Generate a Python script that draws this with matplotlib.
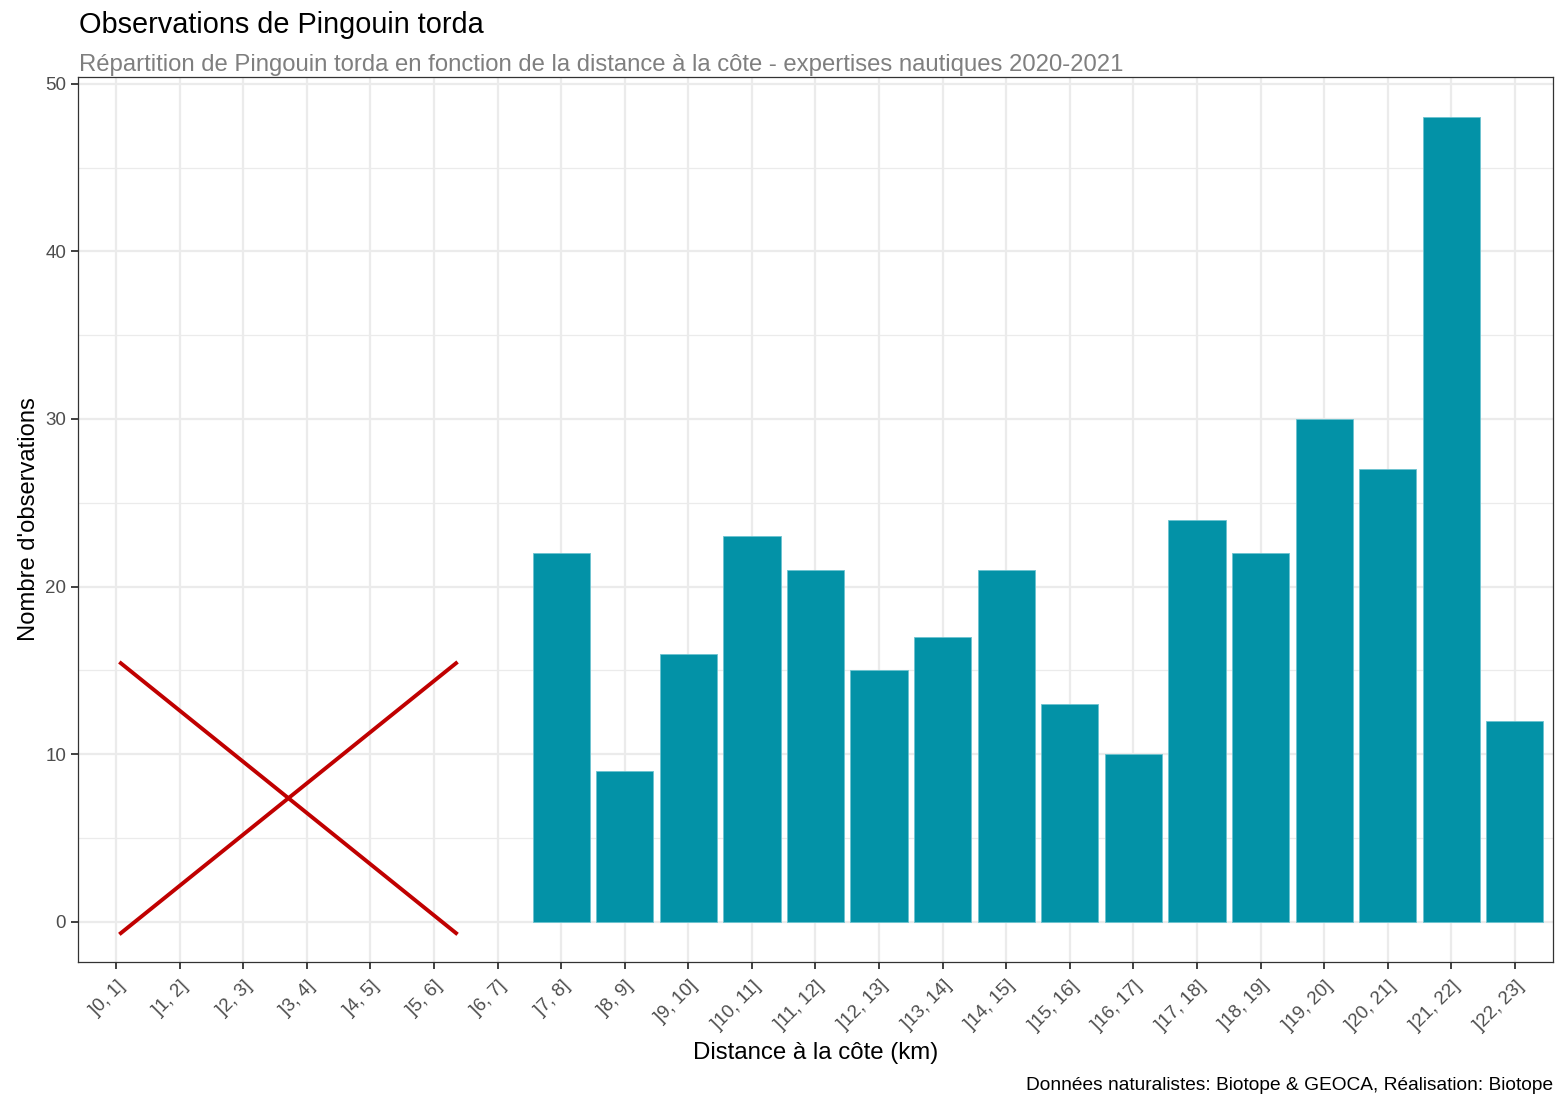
import numpy as np
import matplotlib
matplotlib.use('Agg')
import matplotlib.pyplot as plt
import matplotlib.transforms as mtransforms
from matplotlib.ticker import MultipleLocator

plt.rcParams['font.family'] = ['Liberation Sans', 'DejaVu Sans']

# distance classes (km) and number of observations per class
classes = [']%d, %d]' % (i, i + 1) for i in range(23)]
counts = [0, 0, 0, 0, 0, 0, 0, 22, 9, 16, 23, 21, 15, 17, 21, 13, 10, 24, 22, 30, 27, 48, 12]

# cross drawn over the near-shore classes (x in class index, y in counts)
cross_x = [0.05, 5.37]
cross_y1 = [15.5, -0.75]
cross_y2 = [-0.75, 15.5]

bar_col = '#0392a7'
grid_col = '#ebebeb'

fig = plt.figure(figsize=(15.57, 10.96), dpi=100)
ax = fig.add_axes([78/1557, 1 - 962/1096, (1553-78)/1557, (962-77)/1096])

x = np.arange(len(classes))
shown = [c > 0 for c in counts]
ax.bar(x[shown], np.array(counts)[shown], width=0.9, color=bar_col,
       edgecolor='#6cc3d0', linewidth=0.6, zorder=3)

ax.plot(cross_x, cross_y1, color='#c00000', lw=2.8, zorder=4, solid_capstyle='butt')
ax.plot(cross_x, cross_y2, color='#c00000', lw=2.8, zorder=4, solid_capstyle='butt')

ax.set_xlim(-0.6, 22.6)
ax.set_ylim(-2.4, 50.4)
ax.set_xticks(x)
ax.set_xticklabels(classes, rotation=45, ha='right', va='top',
                   rotation_mode='anchor', fontsize=13.5, color='#4d4d4d')
shift = mtransforms.ScaledTranslation(8/100, -2/100, fig.dpi_scale_trans)
for lab in ax.get_xticklabels():
    lab.set_transform(lab.get_transform() + shift)
ax.yaxis.set_major_locator(MultipleLocator(10))
ax.yaxis.set_minor_locator(MultipleLocator(5))
ax.tick_params(axis='y', labelsize=13.5, labelcolor='#4d4d4d', length=5, width=1.3, color='#333333')
ax.tick_params(axis='x', length=5, width=1.3, color='#333333', pad=6)
ax.tick_params(axis='y', which='minor', length=0)

ax.grid(True, which='major', color=grid_col, lw=1.6, zorder=0)
ax.grid(True, which='minor', axis='y', color=grid_col, lw=0.9, zorder=0)
ax.set_axisbelow(True)
for s in ax.spines.values():
    s.set_color('#333333')
    s.set_linewidth(0.9)

ax.set_xlabel('Distance à la côte (km)', fontsize=17.3, labelpad=6)
ax.set_ylabel("Nombre d'observations", fontsize=17.1, labelpad=4)

fig.text(79/1557, 1 - 25/1096, 'Observations de Pingouin torda', fontsize=20.8,
         ha='left', va='center')
fig.text(79/1557, 1 - 65/1096,
         'Répartition de Pingouin torda en fonction de la distance à la côte - expertises nautiques 2020-2021',
         fontsize=17.2, color='#7f7f7f', ha='left', va='center')
fig.text(1553/1557, 1 - 1085/1096,
         'Données naturalistes: Biotope & GEOCA, Réalisation: Biotope',
         fontsize=13.8, ha='right', va='center')

fig.savefig('out.png', dpi=100)
